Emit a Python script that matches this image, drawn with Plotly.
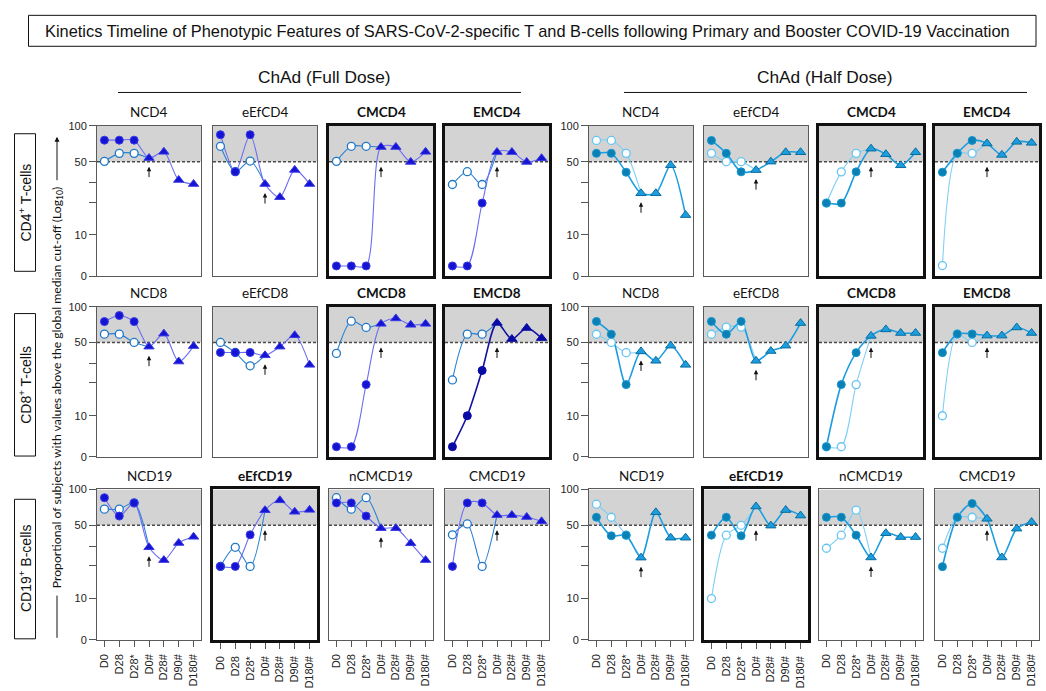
import math
import plotly.graph_objects as go

# ---------------- data ----------------
TIMEPOINTS = ["D0", "D28", "D28*", "D0#", "D28#", "D90#", "D180#"]
ROW_TITLES = [["NCD4", "eEfCD4", "CMCD4", "EMCD4"],
              ["NCD8", "eEfCD8", "CMCD8", "EMCD8"],
              ["NCD19", "eEfCD19", "nCMCD19", "CMCD19"]]
ROW_BOLD = [[False, False, True, True],
            [False, False, True, True],
            [False, True, False, False]]
ROW_LABELS = ["CD4<sup>+</sup> T-cells", "CD8<sup>+</sup> T-cells", "CD19<sup>+</sup> B-cells"]
DOSE_LABELS = ["ChAd (Full Dose)", "ChAd (Half Dose)"]
Y_TICK_VALUES = [4.19, 10, 47, 100]
Y_TICK_TEXT = ["0", "10", "50", "100"]
Y_MINOR_TICKS = [20, 30]
CUTOFF = 47   # position of the "50" global-median cut-off line

# primary series (D0, D28, D28*), filled = one group, open = other group; booster = D0#..D180#
FULL_CD4_FILLED = [[74, 74, 74], [83, 38, 83], [5.2, 5.2, 5.2], [5.2, 5.2, 19.6]]
FULL_CD4_OPEN = [[47.3, 56, 56], [65, 38, 47.6], [47.3, 65, 65], [29, 38, 29]]
FULL_CD4_BOOST = [[50.7, 57.8, 31.9, 29.3], [29.3, 22.2, 39.5, 29.3],
                  [64, 64, 46.7, 57.8], [57.5, 57.5, 46.7, 50.5]]

FULL_CD8_FILLED = [[73, 83, 73], [38, 38, 38], [5.2, 5.2, 19.3], [5.2, 10, 26]]
FULL_CD8_OPEN = [[56, 56, 47], [47, 38, 28.7], [37.3, 73.6, 64.5], [21.3, 56, 56]]
FULL_CD8_BOOST = [[43, 56.6, 31.4, 43.5], [35.8, 43, 54.7, 29.3],
                  [69.6, 78, 68.2, 69.6], [71, 50.5, 63.8, 51.5]]

FULL_CD19_FILLED = [[84, 57, 75.3], [19.7, 19.7, 38.4], [75.3, 75.3, 57], [19.7, 75.3, 75.3]]
FULL_CD19_OPEN = [[66, 66, 75.3], [19.7, 29.5, 19.7], [84, 66, 84], [38.4, 48.3, 19.7]]
FULL_CD19_BOOST = [[29.5, 22.5, 32.3, 36.8], [64.5, 79.5, 62.4, 65],
                   [44.2, 44.2, 32.1, 22.5], [58.2, 58.2, 55.9, 51]]

HALF_CD4_FILLED = [[56, 56, 37.6], [73.5, 56, 37.9], [19.6, 19.6, 37.9], [37.6, 56, 73.5]]
HALF_CD4_OPEN = [[73.5, 73.5, 56], [56, 47, 47], [19.6, 37.9, 56], [5.24, 56, 56]]
HALF_CD4_BOOST = [[24.1, 24.1, 43.6, 15.2], [39.3, 47, 57.3, 57.3],
                  [61.8, 55, 43.5, 57.3], [69, 54.2, 71.4, 69.9]]

HALF_CD8_FILLED = [[73.2, 55.9, 19.3], [73.2, 55.9, 73.2], [5.2, 19.3, 37.9], [37.9, 56.2, 56.2]]
HALF_CD8_OPEN = [[55.9, 47, 37.9], [55.9, 65, 65], [5.2, 5.2, 19.3], [10, 56.2, 47]]
HALF_CD8_BOOST = [[38.9, 31.9, 43.9, 29.3], [31.9, 39.2, 43.9, 70.7],
                  [54, 61.9, 57.4, 57.4], [54.3, 54.3, 64.5, 57.4]]

HALF_CD19_FILLED = [[55.6, 37.6, 38.1], [38.1, 55.6, 37.6], [55.6, 55.6, 38.1], [19.6, 55.6, 74.3]]
HALF_CD19_OPEN = [[73.3, 55.6, 38.1], [10, 38.1, 46.9], [28.9, 38.1, 64.7], [28.9, 55.6, 55.6]]
HALF_CD19_BOOST = [[23.7, 61.7, 36.1, 36.1], [69.8, 46.6, 64.7, 57.6],
                   [23.8, 39.7, 36.6, 36.6], [53.8, 23.8, 43.7, 50.2]]

FILLED = [[FULL_CD4_FILLED, FULL_CD8_FILLED, FULL_CD19_FILLED],
          [HALF_CD4_FILLED, HALF_CD8_FILLED, HALF_CD19_FILLED]]
OPEN = [[FULL_CD4_OPEN, FULL_CD8_OPEN, FULL_CD19_OPEN],
        [HALF_CD4_OPEN, HALF_CD8_OPEN, HALF_CD19_OPEN]]
BOOST = [[FULL_CD4_BOOST, FULL_CD8_BOOST, FULL_CD19_BOOST],
         [HALF_CD4_BOOST, HALF_CD8_BOOST, HALF_CD19_BOOST]]

# ---------------- layout geometry (pixels) ----------------
W, H = 1046, 691
COL_X0 = [[97, 213, 329, 445], [589, 704, 819, 935]]
ROW_Y0 = [122, 306, 492]
PW, PH = 104, 153
DECADE = 111.0
YRANGE = [2 - PH / DECADE, 2]

SANS = "Liberation Sans"
HUMAN = "Lato"

STYLE = [
    dict(fill_mk="#1414d2", fill_edge="#3a3ae6", fill_line="#6c6cf2", fill_w=1.1,
         tri_mk="#1414d2", tri_edge="#3a3ae6",
         open_edge="#1f78c8", open_line="#2a80d0", open_w=1.1),
    dict(fill_mk="#0a80b4", fill_edge="#1596cf", fill_line="#1c9de0", fill_w=1.6,
         tri_mk="#1c9de0", tri_edge="#0a6c9c",
         open_edge="#66c4f2", open_line="#80cff5", open_w=1.1),
]
DARK = dict(fill_mk="#0a0aa6", fill_edge="#0a0aa6", fill_line="#1212a0", fill_w=1.6,
            tri_mk="#0a0aa6", tri_edge="#0a0aa6")


def px(x):
    return x / W


def py(y):
    return 1 - y / H


fig = go.Figure()
annotations = []
shapes = []
layout_axes = {}

k = 0
xs_primary = list(range(3))
xs_boost = list(range(3, 7))
for d in range(2):
    for r in range(3):
        for c in range(4):
            k += 1
            sfx = "" if k == 1 else str(k)
            xa, ya = "x" + sfx, "y" + sfx
            st = dict(STYLE[d])
            if d == 0 and r == 1 and c == 3:
                st.update(DARK)
            filled = FILLED[d][r][c]
            opn = OPEN[d][r][c]
            boost = BOOST[d][r][c]
            bold = ROW_BOLD[r][c]

            # grey region above the cut-off
            fig.add_trace(go.Scatter(x=[-0.5, 6.5, 6.5, -0.5, -0.5],
                                     y=[CUTOFF, CUTOFF, 100, 100, CUTOFF],
                                     mode="lines", fill="toself", fillcolor="#d3d3d3",
                                     line=dict(width=0), hoverinfo="skip",
                                     xaxis=xa, yaxis=ya, showlegend=False))
            # cut-off line
            fig.add_trace(go.Scatter(x=[-0.5, 6.5], y=[CUTOFF, CUTOFF], mode="lines",
                                     line=dict(color="#4a4a4a", width=1.5, dash="3px,2px"),
                                     hoverinfo="skip", xaxis=xa, yaxis=ya, showlegend=False))
            # open-series line (primary + first booster point)
            fig.add_trace(go.Scatter(x=xs_primary + [3], y=opn + [boost[0]], mode="lines",
                                     line=dict(color=st["open_line"], width=st["open_w"],
                                               shape="spline", smoothing=0.8),
                                     hoverinfo="skip", xaxis=xa, yaxis=ya, showlegend=False))
            # filled-series line
            fig.add_trace(go.Scatter(x=xs_primary + xs_boost, y=filled + boost, mode="lines",
                                     line=dict(color=st["fill_line"], width=st["fill_w"],
                                               shape="spline", smoothing=0.8),
                                     hoverinfo="skip", xaxis=xa, yaxis=ya, showlegend=False))
            # open markers
            fig.add_trace(go.Scatter(x=xs_primary, y=opn, mode="markers",
                                     marker=dict(symbol="circle", size=8, color="white",
                                                 line=dict(color=st["open_edge"], width=1.3)),
                                     hoverinfo="skip", xaxis=xa, yaxis=ya, showlegend=False))
            # filled markers
            fig.add_trace(go.Scatter(x=xs_primary, y=filled, mode="markers",
                                     marker=dict(symbol="circle", size=8, color=st["fill_mk"],
                                                 line=dict(color=st["fill_edge"], width=1)),
                                     hoverinfo="skip", xaxis=xa, yaxis=ya, showlegend=False))
            # booster triangles
            fig.add_trace(go.Scatter(x=xs_boost, y=boost, mode="markers",
                                     marker=dict(symbol="triangle-up", size=9, color=st["tri_mk"],
                                                 line=dict(color=st["tri_edge"], width=1)),
                                     hoverinfo="skip", xaxis=xa, yaxis=ya, showlegend=False))

            x0 = COL_X0[d][c]
            y0 = ROW_Y0[r]
            lc = "#111111" if bold else "#5a5a5a"
            lw = 3 if bold else 1
            xaxis = dict(
                domain=[px(x0), px(x0 + PW)], anchor=ya, range=[-0.5, 6.5],
                showgrid=False, zeroline=False, showline=True, mirror=True,
                linecolor=lc, linewidth=lw, fixedrange=True,
                tickmode="array", tickvals=list(range(7)), ticktext=TIMEPOINTS,
                showticklabels=(r == 2), ticks="outside" if r == 2 else "",
                ticklen=6, tickcolor="#555", tickwidth=1, tickangle=-90,
                ticklabelstandoff=3,
                tickfont=dict(family=SANS, size=11, color="#222"))
            yaxis = dict(
                domain=[py(y0 + PH), py(y0)], anchor=xa, type="log", range=YRANGE,
                showgrid=False, zeroline=False, showline=True, mirror=True,
                linecolor=lc, linewidth=lw, fixedrange=True,
                tickmode="array", tickvals=Y_TICK_VALUES, ticktext=Y_TICK_TEXT,
                showticklabels=(c == 0), ticks="outside" if c == 0 else "",
                ticklen=7, tickcolor="#555", tickwidth=1,
                tickfont=dict(family=SANS, size=11, color="#222"))
            if c == 0:
                yaxis["minor"] = dict(tickmode="array", tickvals=Y_MINOR_TICKS,
                                      ticks="outside", ticklen=7, tickcolor="#555",
                                      tickwidth=1, showgrid=False)
            layout_axes["xaxis" + sfx] = xaxis
            layout_axes["yaxis" + sfx] = yaxis

            # panel title
            title = ROW_TITLES[r][c]
            annotations.append(dict(
                x=px(x0 + PW / 2), y=py(y0 - 14), xref="paper", yref="paper",
                text=("<b>%s</b>" % title) if bold else title, showarrow=False,
                xanchor="center", yanchor="middle",
                font=dict(family=HUMAN, size=13.5, color="#111")))
            # booster arrow below D0#
            below = boost[0] < CUTOFF
            head = boost[0] if below else CUTOFF
            so = 9 if below else 5
            annotations.append(dict(
                x=3, y=math.log10(head), xref=xa, yref=ya, text="", showarrow=True,
                ax=0, ay=so + 12, axref="pixel", ayref="pixel", standoff=so,
                arrowhead=2, arrowsize=0.9, arrowwidth=1, arrowcolor="#111"))

# title box
shapes.append(dict(type="rect", xref="paper", yref="paper", x0=px(28.5), x1=px(1036),
                   y0=py(41), y1=py(9.5), line=dict(color="#111", width=1)))
annotations.append(dict(x=px(527), y=py(25.5), xref="paper", yref="paper", showarrow=False,
                        text="Kinetics Timeline of Phenotypic Features of SARS-CoV-2-specific T and B-cells following Primary and Booster COVID-19 Vaccination",
                        font=dict(family=SANS, size=16.4, color="#111"),
                        xanchor="center", yanchor="middle"))
# dose headers
for (cx, ux0, ux1), lab in zip([(324, 118, 521), (824, 624, 1027)], DOSE_LABELS):
    annotations.append(dict(x=px(cx), y=py(72), xref="paper", yref="paper", showarrow=False,
                            text=lab, font=dict(family=SANS, size=17.3, color="#111"),
                            xanchor="center", yanchor="middle"))
    shapes.append(dict(type="line", xref="paper", yref="paper", x0=px(ux0), x1=px(ux1),
                       y0=py(88), y1=py(88), line=dict(color="#111", width=1)))
# row labels
for (by0, by1), lab in zip([(130, 270), (313, 458), (502, 644)], ROW_LABELS):
    shapes.append(dict(type="rect", xref="paper", yref="paper", x0=px(14.5), x1=px(35.5),
                       y0=py(by1), y1=py(by0), line=dict(color="#111", width=1)))
    annotations.append(dict(x=px(25), y=py((by0 + by1) / 2), xref="paper", yref="paper",
                            showarrow=False, text=lab, textangle=-90,
                            font=dict(family=SANS, size=14, color="#111"),
                            xanchor="center", yanchor="middle"))
# y-axis title with arrow and bottom line
annotations.append(dict(x=px(57), y=py(389), xref="paper", yref="paper", showarrow=False,
                        text="Proportional of subjects with values above the global median cut-off (Log<sub>10</sub>)",
                        textangle=-90, font=dict(family=HUMAN, size=12.2, color="#111"),
                        xanchor="center", yanchor="middle"))
annotations.append(dict(x=px(57), y=py(133), xref="paper", yref="paper", text="",
                        showarrow=True, ax=0, ay=45, axref="pixel", ayref="pixel",
                        arrowhead=2, arrowsize=1, arrowwidth=1, arrowcolor="#111"))
shapes.append(dict(type="line", xref="paper", yref="paper", x0=px(57), x1=px(57),
                   y0=py(643), y1=py(600), line=dict(color="#111", width=1)))

fig.update_layout(width=W, height=H, margin=dict(l=0, r=0, t=0, b=0),
                  paper_bgcolor="white", plot_bgcolor="white", showlegend=False,
                  hovermode=False, annotations=annotations, shapes=shapes,
                  font=dict(family=SANS, size=12, color="#222"), **layout_axes)

fig.write_html("out.html", post_script="document.body.style.margin='0px';",
               config={"displayModeBar": False})
